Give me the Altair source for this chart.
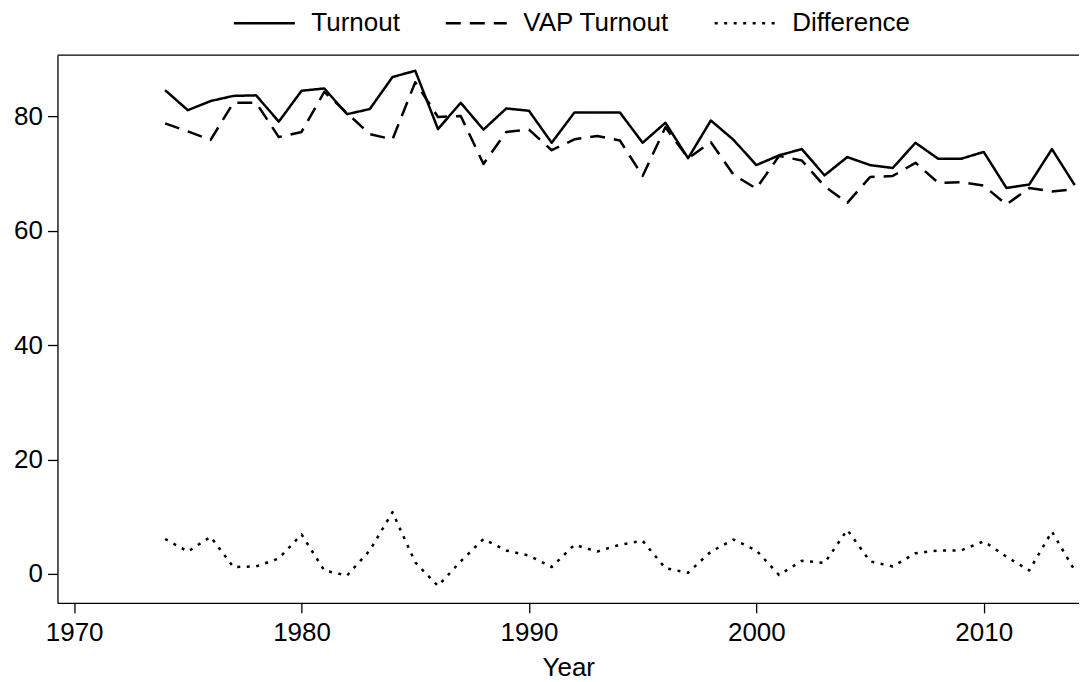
import altair as alt
import pandas as pd

years = list(range(1974, 2015))

turnout = [84.6, 81.1, 82.7, 83.6, 83.7, 79.1, 84.5, 84.9, 80.4, 81.3, 86.9, 88.0, 77.8,
           82.4, 77.7, 81.4, 81.0, 75.4, 80.7, 80.7, 80.7, 75.4, 78.9, 72.7, 79.3, 75.9, 71.5,
           73.2, 74.3, 69.7, 72.9, 71.5, 71.0, 75.4, 72.6, 72.6, 73.8, 67.5, 68.1, 74.3, 68.0]

vap_turnout = [78.8, 77.4, 75.9, 82.4, 82.4, 76.4, 77.3, 84.3, 80.6, 76.9, 76.0, 86.0, 79.9,
               80.1, 71.7, 77.3, 77.7, 74.1, 76.0, 76.6, 75.8, 69.6, 78.1, 72.7, 75.5, 69.8, 67.4,
               73.1, 72.3, 67.8, 64.9, 69.4, 69.6, 71.9, 68.4, 68.5, 67.9, 64.6, 67.5, 66.9, 67.3]

difference = [6.1, 3.9, 6.5, 1.2, 1.3, 2.7, 6.9, 0.6, -0.3, 4.1, 10.8, 2.0, -2.1,
              2.2, 6.1, 4.1, 3.2, 1.2, 5.1, 3.9, 5.1, 5.8, 1.0, 0.2, 3.9, 6.0, 4.1,
              -0.2, 2.3, 1.9, 7.7, 2.2, 1.3, 3.6, 4.1, 4.1, 5.7, 3.0, 0.6, 7.4, 0.6]

series_names = ["Turnout", "VAP Turnout", "Difference"]
x_ticks = [1970, 1980, 1990, 2000, 2010]
y_ticks = [0, 20, 40, 60, 80]

rows = []
for name, vals in zip(series_names, [turnout, vap_turnout, difference]):
    for yr, v in zip(years, vals):
        rows.append({"Year": yr, "value": v, "series": name})
df = pd.DataFrame(rows)

FONT = "Liberation Sans"
LW = 2.5

lines = alt.Chart(df).mark_line(strokeWidth=LW, color="black", strokeJoin="round").encode(
    x=alt.X("Year:Q",
            scale=alt.Scale(domain=[1969.266, 2014.19], nice=False, zero=False),
            axis=alt.Axis(values=x_ticks, format="d", title="Year", grid=False,
                          tickSize=10, labelPadding=7, titlePadding=9)),
    y=alt.Y("value:Q",
            scale=alt.Scale(domain=[-5.07, 90.73], nice=False, zero=False),
            axis=alt.Axis(values=y_ticks, title=None, grid=False,
                          tickSize=10, labelPadding=5)),
    strokeDash=alt.StrokeDash("series:N",
                              scale=alt.Scale(domain=series_names,
                                              range=[[1, 0], [15, 9], [3, 6.5]]),
                              legend=alt.Legend(title=None, orient="none",
                                                direction="horizontal",
                                                legendX=175, legendY=-64,
                                                symbolType="stroke", symbolSize=3721,
                                                symbolStrokeWidth=LW,
                                                symbolStrokeColor="black",
                                                labelFontSize=26, labelFont=FONT,
                                                labelColor="black",
                                                labelOffset=15, columnPadding=40,
                                                padding=0)),
    detail="series:N",
)

frame_top = alt.Chart(pd.DataFrame({"k": [0]})).mark_rule(color="black", strokeWidth=1.3).encode(
    y=alt.value(0)
)

chart = alt.layer(lines, frame_top).properties(
    width=1022, height=548,
    autosize=alt.AutoSizeParams(type="none"),
    padding={"left": 49.5, "top": 47, "right": 0, "bottom": 79},
    background="white",
).configure_view(stroke=None).configure_axis(
    labelFont=FONT, titleFont=FONT, labelFontSize=26, titleFontSize=26,
    labelColor="black", titleColor="black", titleFontWeight="normal",
    domainColor="black", tickColor="black", domainWidth=1.3, tickWidth=1.3,
)

chart.save("out.html", embed_options={"renderer": "svg", "actions": False})
